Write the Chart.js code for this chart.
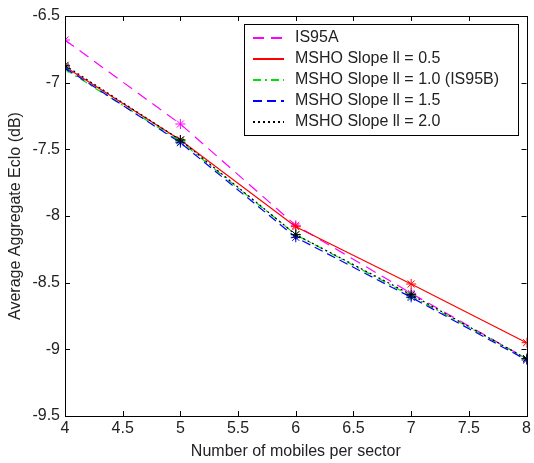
<!DOCTYPE html>
<html>
<head>
<meta charset="utf-8">
<script src="https://cdn.jsdelivr.net/npm/chart.js@4/dist/chart.umd.min.js"></script>
<style>
  html, body { margin: 0; padding: 0; background: #fff; }
  #wrap { width: 534px; height: 463px; position: relative; }
</style>
</head>
<body>
<div id="wrap"><canvas id="ecioChart"></canvas></div>
<script>
// x axis: mobiles per sector
const mobiles = [4, 5, 6, 7, 8];

// series values (dB)
const is95a   = [-6.68, -7.31, -8.07, -8.58, -9.07];
const slope05 = [-6.88, -7.43, -8.08, -8.51, -8.95];
const slope10 = [-6.90, -7.44, -8.14, -8.60, -9.07];
const slope15 = [-6.89, -7.45, -8.16, -8.61, -9.08];
const slope20 = [-6.87, -7.43, -8.14, -8.59, -9.07];

const seriesLabels = [
  'IS95A',
  'MSHO Slope ll = 0.5',
  'MSHO Slope ll = 1.0 (IS95B)',
  'MSHO Slope ll = 1.5',
  'MSHO Slope ll = 2.0'
];

const xTicks = [4, 4.5, 5, 5.5, 6, 6.5, 7, 7.5, 8];
const yTicks = [-9.5, -9, -8.5, -8, -7.5, -7, -6.5];

const FONT = '"Liberation Sans", Arial, sans-serif';

function toPoints(values) {
  return mobiles.map((m, i) => ({ x: m, y: values[i] }));
}

const styles = [
  { color: '#ff00ff', dash: [11, 7] },
  { color: '#ff0000', dash: [] },
  { color: '#00e000', dash: [8, 4, 2, 4] },
  { color: '#0000ff', dash: [9, 5] },
  { color: '#000000', dash: [2, 3] }
];

const allValues = [is95a, slope05, slope10, slope15, slope20];

const datasets = allValues.map((vals, i) => ({
  label: seriesLabels[i],
  data: toPoints(vals),
  order: allValues.length - i, // later series drawn on top
  borderColor: styles[i].color,
  backgroundColor: styles[i].color,
  borderDash: styles[i].dash,
  borderWidth: 1.2,
  pointStyle: 'star',
  pointRadius: 5,
  pointBorderWidth: 1,
  pointBorderColor: styles[i].color,
  tension: 0
}));

// MATLAB style box, inward ticks and in-plot legend
const matlabBox = {
  id: 'matlabBox',
  afterDraw(chart) {
    const ctx = chart.ctx;
    const a = chart.chartArea;
    const xs = chart.scales.x, ys = chart.scales.y;
    ctx.save();
    ctx.strokeStyle = '#000';
    ctx.lineWidth = 1;
    ctx.setLineDash([]);
    ctx.strokeRect(Math.round(a.left) + 0.5, Math.round(a.top) + 0.5,
      Math.round(a.right - a.left), Math.round(a.bottom - a.top));
    const tl = 5;
    ctx.beginPath();
    xTicks.forEach(v => {
      const px = Math.round(xs.getPixelForValue(v)) + 0.5;
      ctx.moveTo(px, a.bottom); ctx.lineTo(px, a.bottom - tl);
      ctx.moveTo(px, a.top); ctx.lineTo(px, a.top + tl);
    });
    yTicks.forEach(v => {
      const py = Math.round(ys.getPixelForValue(v)) + 0.5;
      ctx.moveTo(a.left, py); ctx.lineTo(a.left + tl, py);
      ctx.moveTo(a.right, py); ctx.lineTo(a.right - tl, py);
    });
    ctx.stroke();

    // legend box
    const bx = 244, by = 24, bw = 274, bh = 111;
    ctx.fillStyle = '#fff';
    ctx.fillRect(bx, by, bw, bh);
    ctx.strokeStyle = '#000';
    ctx.strokeRect(bx + 0.5, by + 0.5, bw, bh);
    ctx.font = '16px ' + FONT;
    ctx.textBaseline = 'middle';
    seriesLabels.forEach((label, i) => {
      const ry = by + 14 + i * 21;
      ctx.save();
      ctx.strokeStyle = styles[i].color;
      ctx.lineWidth = 2;
      ctx.setLineDash(styles[i].dash);
      ctx.beginPath();
      ctx.moveTo(253, ry);
      ctx.lineTo(284, ry);
      ctx.stroke();
      ctx.restore();
      ctx.fillStyle = '#222';
      ctx.fillText(label, 295, ry);
    });
    ctx.restore();
  }
};

const tickText = v => String(Number(v));

new Chart(document.getElementById('ecioChart'), {
  type: 'line',
  data: { datasets: datasets },
  options: {
    responsive: true,
    maintainAspectRatio: false,
    animation: false,
    layout: { padding: { top: 16, right: 7, left: 0, bottom: 0 } },
    plugins: {
      legend: { display: false },
      tooltip: { enabled: false }
    },
    scales: {
      x: {
        type: 'linear',
        min: 4,
        max: 8,
        afterBuildTicks: scale => { scale.ticks = xTicks.map(v => ({ value: v })); },
        afterFit: scale => { scale.height = 47; },
        grid: { display: false, drawTicks: false },
        border: { display: false },
        ticks: { color: '#222', font: { family: FONT, size: 16 }, padding: 3, maxRotation: 0, autoSkip: false, callback: tickText },
        title: {
          display: true,
          text: 'Number of mobiles per sector',
          color: '#222',
          font: { family: FONT, size: 16 },
          padding: { top: 0, bottom: 2 }
        }
      },
      y: {
        min: -9.5,
        max: -6.5,
        afterBuildTicks: scale => { scale.ticks = yTicks.map(v => ({ value: v })); },
        afterFit: scale => { scale.width = 65; },
        grid: { display: false, drawTicks: false },
        border: { display: false },
        ticks: { color: '#222', font: { family: FONT, size: 16 }, padding: 5, callback: tickText },
        title: {
          display: true,
          text: 'Average Aggregate Eclo (dB)',
          color: '#222',
          font: { family: FONT, size: 16 },
          padding: { top: 6, bottom: 0 }
        }
      }
    }
  },
  plugins: [matlabBox]
});
</script>
</body>
</html>
